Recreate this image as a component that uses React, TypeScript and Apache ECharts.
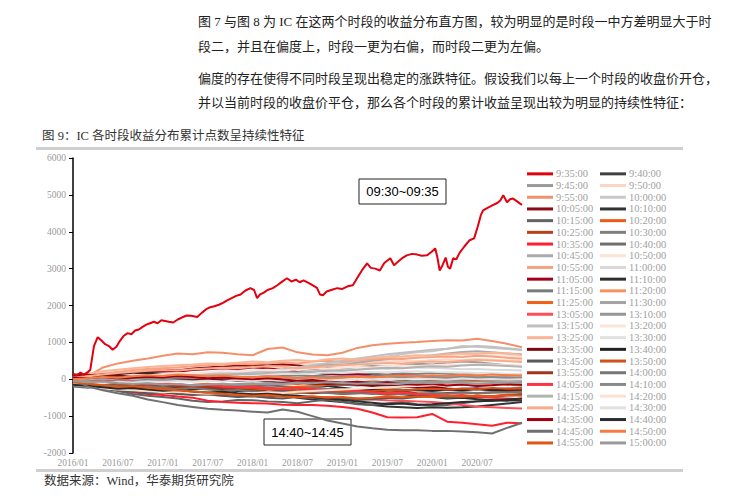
import React, { useEffect, useRef } from "react";
import * as echarts from "echarts";

// ---------- text ----------
const paragraphLines = [
  "图 7 与图 8 为 IC 在这两个时段的收益分布直方图，较为明显的是时段一中方差明显大于时",
  "段二，并且在偏度上，时段一更为右偏，而时段二更为左偏。",
  "偏度的存在使得不同时段呈现出稳定的涨跌特征。假设我们以每上一个时段的收盘价开仓，",
  "并以当前时段的收盘价平仓，那么各个时段的累计收益呈现出较为明显的持续性特征：",
];
const chartTitle = "图 9：IC 各时段收益分布累计点数呈持续性特征";
const sourceNote = "数据来源：Wind，华泰期货研究院";
const annotationTop = "09:30~09:35";
const annotationBottom = "14:40~14:45";

// ---------- axes ----------
const xTickLabels = ["2016/01", "2016/07", "2017/01", "2017/07", "2018/01", "2018/07", "2019/01", "2019/07", "2020/01", "2020/07"];
// months since 2016/01 for the bundle series
const bundleMonths = [0, 2, 4, 6, 8, 10, 12, 14, 16, 18, 20, 22, 24, 26, 28, 30, 32, 34, 36, 38, 40, 42, 44, 46, 48, 50, 52, 54, 56, 58, 60];

// ---------- series names / colours ----------
const seriesNames = [
  "9:35:00", "9:40:00", "9:45:00", "9:50:00", "9:55:00", "10:00:00", "10:05:00", "10:10:00",
  "10:15:00", "10:20:00", "10:25:00", "10:30:00", "10:35:00", "10:40:00", "10:45:00", "10:50:00",
  "10:55:00", "11:00:00", "11:05:00", "11:10:00", "11:15:00", "11:20:00", "11:25:00", "11:30:00",
  "13:05:00", "13:10:00", "13:15:00", "13:20:00", "13:25:00", "13:30:00", "13:35:00", "13:40:00",
  "13:45:00", "13:50:00", "13:55:00", "14:00:00", "14:05:00", "14:10:00", "14:15:00", "14:20:00",
  "14:25:00", "14:30:00", "14:35:00", "14:40:00", "14:45:00", "14:50:00", "14:55:00", "15:00:00",
];
const seriesColors = [
  "#e3000f", "#404040", "#9a9a9a", "#fcd5c4", "#f3906b", "#c9c9c9", "#8c0a14", "#333333",
  "#636363", "#ef5b12", "#b5401a", "#808080", "#ff1f2e", "#6e6e6e", "#ababab", "#fde2d4",
  "#f6a283", "#d9d9d9", "#a3001a", "#2e2e2e", "#7a7a7a", "#f8915b", "#f05f14", "#a3a3a3",
  "#ff4d5a", "#969696", "#c0c0c0", "#fde3da", "#f9b595", "#e1e1e1", "#7d0a12", "#222222",
  "#595959", "#d2501a", "#a3341a", "#767676", "#ff3342", "#8a8a8a", "#b3b3b3", "#fde0d0",
  "#f9ab8c", "#e0e0e0", "#a00012", "#2b2b2b", "#707070", "#f47c42", "#e25512", "#9a9a9a",
];

// ---------- 09:35 series: [month since 2016/01, cumulative points] ----------
const s0935 = [
  [0, 150], [0.5, 100], [1, 180], [1.5, 120], [2, 200], [2.3, 250], [2.8, 900], [3.3, 1140], [3.8, 1050], [4.3, 950],
  [4.8, 900], [5.3, 800], [5.8, 880], [6.3, 1050], [6.8, 1180], [7.3, 1250], [7.8, 1220], [8.3, 1320], [8.8, 1350], [9.3, 1420],
  [9.8, 1480], [10.3, 1520], [10.8, 1560], [11.3, 1520], [11.8, 1600], [12.3, 1580], [12.8, 1560], [13.4, 1540], [14, 1620], [14.6, 1680],
  [15.2, 1730], [15.8, 1720], [16.6, 1690], [17.2, 1800], [17.8, 1900], [18.3, 1950], [18.9, 1980], [19.5, 2020], [20.1, 2080], [20.6, 2140],
  [21.2, 2200], [21.8, 2260], [22.4, 2300], [23, 2400], [23.7, 2470], [24.2, 2420], [24.6, 2200], [25, 2300], [25.5, 2350], [26, 2420],
  [26.7, 2470], [27.3, 2550], [27.9, 2640], [28.6, 2740], [29.2, 2650], [29.8, 2700], [30.3, 2630], [30.8, 2680], [31.4, 2620], [32, 2550],
  [32.6, 2480], [33, 2300], [33.4, 2280], [33.9, 2380], [34.5, 2420], [35.3, 2470], [36, 2450], [36.7, 2520], [37.4, 2550], [38, 2750],
  [38.6, 2950], [39.3, 3140], [39.8, 3020], [40.4, 3000], [41, 2950], [41.6, 3150], [42.4, 3280], [42.9, 3090], [43.5, 3200], [44.1, 3300],
  [44.6, 3360], [45.3, 3400], [46, 3380], [46.6, 3350], [47.3, 3360], [47.9, 3450], [48.4, 3550], [48.7, 3300], [49, 2950], [49.4, 3100],
  [49.8, 3300], [50.1, 3050], [50.4, 3000], [50.8, 3280], [51.2, 3250], [51.7, 3440], [52.3, 3600], [53, 3770], [53.6, 3820], [54.1, 4150],
  [54.5, 4450], [54.8, 4580], [55.4, 4650], [56.1, 4720], [56.7, 4780], [57.1, 4850], [57.5, 4990], [58, 4800], [58.4, 4880], [58.8, 4900],
  [59.3, 4830], [59.7, 4770], [60, 4730],
];

// ---------- other series, sampled at bundleMonths ----------
const s0940 = [120, 150, 100, 130, 160, 140, 110, 130, 90, 60, 80, 40, 20, 0, -30, -60, -40, -80, -110, -90, -60, -80, -50, -70, -40, -60, -30, -50, -20, -40, -30];
const s0945 = [20, 40, 10, 60, 90, 70, 110, 150, 130, 170, 200, 180, 220, 250, 230, 200, 260, 300, 280, 330, 360, 340, 380, 420, 400, 450, 480, 460, 420, 380, 350];
const s0950 = [0, 50, 100, 150, 180, 210, 240, 270, 260, 300, 330, 310, 350, 380, 360, 400, 420, 410, 440, 460, 450, 480, 500, 490, 520, 540, 520, 550, 530, 510, 500];
const s0955 = [0, 80, 320, 430, 500, 560, 640, 700, 680, 730, 720, 680, 650, 820, 860, 730, 670, 650, 720, 850, 920, 960, 990, 1010, 1040, 1060, 1050, 1100, 1040, 960, 870];
const s1000 = [-30, -10, 20, 0, 40, 60, 50, 80, 100, 90, 120, 140, 160, 200, 240, 280, 330, 380, 420, 480, 550, 620, 680, 730, 760, 830, 900, 880, 850, 820, 790];
const s1005 = [50, 120, 150, 180, 200, 230, 260, 240, 290, 320, 350, 380, 360, 400, 410, 380, 300, 180, 150, 120, 90, 60, 80, 40, 60, 30, 50, 20, 0, -20, -30];
const s1010 = [30, 0, -60, -100, -150, -200, -250, -300, -350, -400, -430, -460, -450, -480, -420, -500, -550, -580, -620, -660, -700, -740, -760, -780, -760, -770, -760, -740, -700, -660, -620];
const s1015 = [-50, -150, -250, -320, -400, -450, -480, -520, -580, -620, -600, -560, -570, -600, -620, -650, -600, -550, -620, -680, -700, -650, -620, -680, -720, -700, -650, -600, -580, -560, -530];
const s1020 = [-40, -70, -50, -90, -120, -100, -140, -170, -150, -120, -160, -190, -170, -140, -110, -130, -100, -80, -110, -90, -60, -80, -100, -70, -90, -120, -100, -130, -110, -150, -170];
const s1025 = [0, -30, -60, -100, -80, -120, -150, -130, -180, -200, -170, -220, -250, -230, -280, -300, -260, -310, -350, -330, -380, -420, -400, -440, -470, -450, -480, -500, -460, -420, -400];
const s1030 = [-60, -40, -20, -50, -30, 0, 20, -10, 30, 50, 30, 60, 80, 60, 90, 110, 90, 120, 140, 120, 150, 130, 160, 140, 170, 150, 130, 160, 140, 120, 110];
const s1035 = [0, -80, -180, -260, -350, -400, -430, -470, -500, -580, -620, -640, -650, -660, -690, -700, -700, -720, -750, -800, -900, -1030, -1040, -1030, -940, -1150, -1180, -1220, -1260, -1180, -1190];
const s1040 = [-200, -230, -190, -220, -250, -220, -200, -230, -260, -240, -210, -180, -200, -170, -190, -220, -200, -180, -150, -170, -140, -160, -180, -150, -130, -160, -140, -170, -150, -130, -150];
const s1045 = [-20, 10, 40, 20, 60, 90, 80, 120, 150, 130, 170, 200, 190, 230, 260, 300, 350, 400, 380, 450, 500, 540, 580, 620, 650, 700, 740, 760, 730, 700, 680];
const s1050 = [50, 100, 160, 200, 240, 280, 310, 340, 370, 400, 390, 420, 450, 430, 470, 500, 480, 520, 540, 530, 560, 590, 580, 610, 640, 620, 650, 670, 660, 640, 620];
const s1055 = [30, 80, 150, 200, 250, 280, 300, 320, 350, 380, 400, 420, 410, 440, 460, 430, 480, 500, 470, 520, 540, 560, 550, 580, 600, 620, 600, 640, 620, 580, 560];
const s1100 = [0, 20, 50, 30, 70, 90, 80, 110, 130, 120, 150, 170, 160, 190, 210, 200, 230, 250, 240, 270, 290, 280, 300, 320, 310, 290, 270, 280, 260, 250, 240];
const s1105 = [80, 100, 130, 110, 150, 190, 220, 200, 250, 270, 300, 280, 320, 300, 250, 200, 180, 150, 120, 140, 100, 80, 110, 90, 60, 80, 50, 70, 40, 20, 10];
const s1110 = [100, 130, 110, 150, 130, 170, 150, 120, 140, 100, 80, 50, 30, 0, -40, -80, -130, -180, -230, -280, -320, -360, -400, -440, -480, -520, -500, -540, -560, -580, -570];
const s1115 = [-100, -120, -90, -140, -160, -130, -170, -200, -180, -220, -250, -230, -200, -240, -270, -250, -220, -260, -280, -300, -270, -250, -280, -300, -320, -290, -260, -240, -270, -250, -230];
const s1120 = [-100, -150, -200, -250, -280, -320, -350, -380, -400, -420, -450, -430, -460, -440, -400, -380, -350, -330, -300, -280, -260, -240, -220, -200, -180, -160, -140, -150, -130, -110, -100];
const s1125 = [-50, -80, -100, -140, -120, -160, -200, -180, -220, -260, -240, -280, -300, -270, -240, -200, -180, -150, -120, -140, -100, -80, -60, -90, -50, -70, -40, -60, -30, -50, -80];
const s1130 = [-80, -60, -90, -50, -70, -40, -20, -50, -30, 0, -20, 10, 30, 10, 40, 20, 50, 70, 50, 80, 60, 90, 70, 100, 80, 60, 90, 70, 50, 60, 40];
const s1305 = [0, -50, -120, -200, -250, -280, -300, -320, -350, -380, -400, -420, -450, -430, -470, -480, -500, -480, -500, -520, -550, -570, -580, -600, -620, -650, -700, -740, -760, -780, -790];
const s1310 = [-150, -180, -160, -200, -230, -210, -180, -200, -170, -140, -160, -130, -110, -140, -120, -90, -110, -80, -100, -70, -90, -60, -80, -50, -70, -40, -60, -80, -60, -40, -50];
const s1315 = [0, 30, 10, 50, 80, 60, 100, 130, 110, 150, 180, 210, 190, 230, 270, 320, 380, 440, 500, 560, 620, 680, 720, 760, 800, 830, 870, 900, 880, 840, 800];
const s1320 = [20, 60, 40, 80, 120, 100, 140, 170, 150, 190, 220, 200, 240, 260, 240, 270, 300, 280, 310, 330, 320, 350, 370, 360, 380, 400, 390, 410, 400, 380, 370];
const s1325 = [60, 150, 220, 260, 300, 330, 360, 380, 400, 430, 420, 450, 480, 460, 500, 520, 480, 540, 560, 530, 580, 600, 620, 650, 640, 680, 700, 690, 720, 700, 660];
const s1330 = [-50, -20, 0, 30, 10, 40, 60, 50, 80, 70, 100, 120, 110, 130, 150, 140, 160, 180, 170, 190, 200, 190, 210, 220, 200, 190, 180, 170, 160, 150, 140];
const s1335 = [100, 120, 80, 100, 60, 40, 70, 30, 0, 20, -20, -50, -30, -60, -90, -70, -100, -130, -110, -150, -180, -160, -200, -230, -210, -250, -280, -260, -300, -280, -260];
const s1340 = [-100, -130, -170, -150, -190, -220, -200, -240, -270, -250, -290, -320, -300, -340, -360, -330, -300, -320, -290, -310, -280, -300, -320, -290, -310, -280, -300, -270, -290, -310, -300];
const s1345 = [-150, -200, -260, -300, -340, -380, -360, -400, -430, -410, -450, -480, -460, -500, -520, -480, -500, -540, -520, -560, -540, -500, -520, -480, -460, -500, -480, -450, -470, -440, -420];
const s1350 = [-20, -50, -90, -130, -110, -150, -180, -160, -200, -230, -210, -250, -280, -260, -290, -320, -300, -330, -310, -340, -320, -290, -310, -280, -260, -280, -250, -270, -240, -260, -250];
const s1355 = [-30, -60, -100, -80, -130, -170, -150, -200, -230, -210, -250, -280, -300, -330, -310, -350, -380, -360, -400, -380, -350, -370, -340, -380, -400, -370, -350, -380, -360, -340, -330];
const s1400 = [-120, -160, -140, -180, -210, -190, -230, -260, -240, -280, -310, -290, -330, -350, -330, -360, -340, -370, -390, -370, -400, -380, -410, -390, -370, -390, -360, -380, -350, -360, -340];
const s1405 = [20, -20, -60, -40, -80, -120, -100, -140, -170, -150, -190, -220, -200, -240, -260, -230, -270, -300, -280, -320, -350, -380, -360, -400, -420, -450, -430, -470, -500, -520, -540];
const s1410 = [0, -30, 10, -20, 20, 40, 20, 50, 30, 60, 40, 70, 50, 80, 60, 40, 70, 50, 80, 60, 90, 70, 50, 80, 60, 40, 70, 50, 60, 40, 50];
const s1415 = [-20, 0, 30, 10, 50, 70, 60, 90, 110, 100, 130, 150, 140, 170, 200, 180, 210, 240, 230, 260, 290, 310, 300, 330, 350, 340, 370, 390, 380, 360, 340];
const s1420 = [-150, -200, -250, -280, -300, -320, -350, -330, -370, -390, -370, -400, -380, -350, -370, -340, -320, -300, -280, -260, -240, -220, -200, -180, -160, -140, -120, -110, -100, -90, -100];
const s1425 = [40, 90, 130, 170, 200, 230, 250, 240, 270, 290, 310, 300, 330, 350, 340, 300, 320, 350, 380, 400, 420, 440, 430, 460, 480, 470, 500, 520, 510, 490, 470];
const s1430 = [-100, -80, -110, -70, -90, -60, -80, -50, -70, -40, -60, -30, -50, -20, -40, -10, -30, 0, -20, 10, -10, 20, 0, 30, 10, -10, 20, 0, 10, -10, 0];
const s1435 = [50, 30, 60, 20, 40, 70, 50, 90, 60, 30, 50, 20, 0, 30, -10, -40, -20, -60, -90, -70, -100, -80, -120, -150, -130, -170, -140, -180, -160, -130, -150];
const s1440 = [-150, -180, -220, -260, -240, -280, -310, -290, -330, -360, -340, -380, -410, -390, -430, -450, -480, -520, -560, -600, -640, -680, -660, -700, -680, -650, -620, -600, -580, -550, -520];
const s1445 = [0, -200, -300, -380, -450, -550, -620, -700, -750, -800, -830, -850, -880, -900, -820, -880, -1000, -1120, -1200, -1280, -1330, -1370, -1380, -1380, -1400, -1400, -1420, -1440, -1470, -1320, -1180];
const s1450 = [0, 30, 60, 40, 80, 110, 90, 130, 110, 80, 100, 70, 50, 80, 60, 30, 50, 20, 40, 70, 50, 80, 100, 80, 110, 90, 120, 100, 130, 110, 100];
const s1455 = [-80, -120, -160, -200, -180, -230, -270, -300, -330, -360, -390, -420, -450, -430, -470, -490, -460, -500, -480, -520, -500, -470, -490, -460, -480, -450, -470, -440, -460, -430, -450];
const s1500 = [-50, -80, -60, -100, -130, -110, -150, -130, -160, -140, -120, -150, -130, -100, -120, -90, -110, -80, -100, -120, -100, -130, -110, -90, -110, -80, -100, -120, -100, -90, -100];

const bundleSeries = [
  s0940, s0945, s0950, s0955, s1000, s1005, s1010, s1015, s1020, s1025, s1030, s1035, s1040, s1045, s1050, s1055,
  s1100, s1105, s1110, s1115, s1120, s1125, s1130, s1305, s1310, s1315, s1320, s1325, s1330, s1335, s1340, s1345,
  s1350, s1355, s1400, s1405, s1410, s1415, s1420, s1425, s1430, s1435, s1440, s1445, s1450, s1455, s1500,
];

const SERIF = "'Liberation Serif', 'Noto Sans CJK SC', serif";
const CJK = "'Liberation Serif', 'Noto Sans CJK SC', sans-serif";

export default function App() {
  const ref = useRef<HTMLDivElement>(null);

  useEffect(() => {
    if (!ref.current) return;
    const chart = echarts.init(ref.current, undefined, { renderer: "svg" });

    const allData: number[][][] = [
      s0935,
      ...bundleSeries.map((arr) => arr.map((v, i) => [bundleMonths[i], v])),
    ];

    const series = seriesNames.map((name, i) => ({
      name,
      type: "line",
      data: allData[i],
      showSymbol: false,
      symbol: "none",
      color: seriesColors[i],
      lineStyle: { width: 2, color: seriesColors[i] },
      z: i === 0 ? 5 : 2,
      emphasis: { disabled: true },
      silent: true,
    }));

    const leftNames = seriesNames.filter((_, i) => i % 2 === 0);
    const rightNames = seriesNames.filter((_, i) => i % 2 === 1);
    const legendBase = {
      orient: "vertical",
      top: 168,
      itemWidth: 26,
      itemHeight: 3,
      itemGap: 0,
      icon: "rect",
      selectedMode: false,
      textStyle: { color: "#a0a0a0", fontFamily: SERIF, fontSize: 10.5, lineHeight: 11.7, padding: [0, 0, 0, -2] },
      padding: 0,
    };

    const paraTops = [21, 46, 78, 102];

    chart.setOption({
      animation: false,
      backgroundColor: "#fff",
      grid: { left: 73, top: 158, width: 449, height: 295, containLabel: false },
      xAxis: {
        type: "value",
        min: 0,
        max: 60,
        interval: 6,
        axisLine: { show: false },
        axisTick: { show: false },
        splitLine: { show: false },
        axisLabel: {
          margin: 5,
          color: "#9a9a9a",
          fontFamily: SERIF,
          fontSize: 9.5,
          formatter: (v: number) => xTickLabels[Math.round(v / 6)] ?? "",
        },
      },
      yAxis: {
        type: "value",
        min: -2000,
        max: 6000,
        interval: 1000,
        axisLine: { show: true, lineStyle: { color: "#000", width: 1.5 } },
        axisTick: { show: true, inside: false, length: 4, lineStyle: { color: "#000", width: 1 } },
        splitLine: { show: false },
        axisLabel: {
          margin: 7,
          color: "#9a9a9a",
          fontFamily: SERIF,
          fontSize: 9.5,
          formatter: (v: number) => String(v),
        },
      },
      legend: [
        { ...legendBase, left: 527, data: leftNames },
        { ...legendBase, left: 600, data: rightNames },
      ],
      series,
      graphic: [
        ...paragraphLines.map((t, i) => ({
          type: "text",
          x: 198,
          y: paraTops[i],
          z: 20,
          style: { text: t, fill: "#222", font: `13px ${CJK}`, verticalAlign: "middle" },
        })),
        {
          type: "text",
          x: 42,
          y: 136,
          z: 20,
          style: { text: chartTitle, fill: "#333", font: `12.5px ${CJK}`, verticalAlign: "middle" },
        },
        { type: "rect", z: 20, shape: { x: 36, y: 147, width: 647, height: 3 }, style: { fill: "#cfcfcf" } },
        { type: "rect", z: 20, shape: { x: 36, y: 469, width: 647, height: 3 }, style: { fill: "#cfcfcf" } },
        {
          type: "text",
          x: 44,
          y: 481,
          z: 20,
          style: { text: sourceNote, fill: "#333", font: `12.5px ${CJK}`, verticalAlign: "middle" },
        },
        {
          type: "group",
          z: 30,
          children: [
            { type: "rect", shape: { x: 359, y: 179, width: 87, height: 25 }, style: { fill: "#fff", stroke: "#222", lineWidth: 1 } },
            {
              type: "text",
              x: 402.5,
              y: 191.5,
              style: { text: annotationTop, fill: "#000", font: "13px 'Liberation Sans', 'Open Sans', sans-serif", align: "center", verticalAlign: "middle" },
            },
            { type: "rect", shape: { x: 264, y: 419, width: 87, height: 26 }, style: { fill: "#fff", stroke: "#222", lineWidth: 1 } },
            {
              type: "text",
              x: 307.5,
              y: 432,
              style: { text: annotationBottom, fill: "#000", font: "13px 'Liberation Sans', 'Open Sans', sans-serif", align: "center", verticalAlign: "middle" },
            },
          ],
        },
      ],
    });

    return () => chart.dispose();
  }, []);

  return (
    <div
      ref={ref}
      style={{ position: "absolute", left: 0, top: 0, width: 753, height: 500, background: "#fff" }}
    />
  );
}
